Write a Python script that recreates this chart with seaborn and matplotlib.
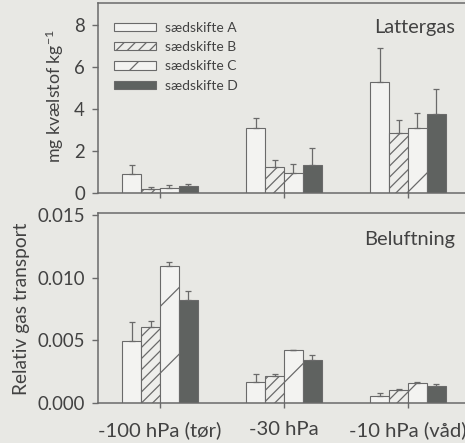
import matplotlib
matplotlib.use("Agg")
import matplotlib.pyplot as plt
import seaborn as sns
import pandas as pd
import numpy as np
from matplotlib.patches import Patch

# ---- data ----
categories = ["-100 hPa (tør)", "-30 hPa", "-10 hPa (våd)"]
series = ["sædskifte A", "sædskifte B", "sædskifte C", "sædskifte D"]

n2o_A = [0.90, 3.08, 5.30]
n2o_B = [0.19, 1.25, 2.87]
n2o_C = [0.25, 0.94, 3.11]
n2o_D = [0.33, 1.32, 3.75]
n2o_err_A = [0.43, 0.47, 1.62]
n2o_err_B = [0.10, 0.32, 0.63]
n2o_err_C = [0.15, 0.43, 0.69]
n2o_err_D = [0.12, 0.81, 1.19]

gas_A = [0.00491, 0.00167, 0.00053]
gas_B = [0.00603, 0.00218, 0.00101]
gas_C = [0.01096, 0.00419, 0.00159]
gas_D = [0.00823, 0.00340, 0.00138]
gas_err_A = [0.00159, 0.00067, 0.00027]
gas_err_B = [0.00055, 0.00010, 0.00011]
gas_err_C = [0.00030, 0.00006, 0.00006]
gas_err_D = [0.00074, 0.00045, 0.00013]

top_title = "Lattergas"
bottom_title = "Beluftning"
top_ylabel = "mg kvælstof kg$^{-1}$"
bottom_ylabel = "Relativ gas transport"

# ---- style ----
bg = "#e8e8e4"
line_c = "#6a6a6a"
text_c = "#424242"
fills = ["#f3f3f1", "#eeeeeb", "#f3f3f1", "#5e6260"]
hatches = ["", "//////", "/", ""]

sns.set_style("white")
plt.rcParams["font.family"] = ["Lato", "DejaVu Sans"]
plt.rcParams["hatch.linewidth"] = 0.45
plt.rcParams["text.color"] = text_c
plt.rcParams["axes.labelcolor"] = text_c
plt.rcParams["xtick.color"] = line_c
plt.rcParams["ytick.color"] = line_c
plt.rcParams["xtick.labelcolor"] = text_c
plt.rcParams["ytick.labelcolor"] = text_c
plt.rcParams["mathtext.default"] = "regular"

W, H = 465, 443
DPI = 200
fig = plt.figure(figsize=(W / DPI, H / DPI), dpi=DPI, facecolor=bg)

def fx(px):
    return px / W

def fy(px):
    return 1 - px / H

left = fx(98)
width = (470 - 98) / W
ax1 = fig.add_axes([left, fy(193), width, (193 - 3) / H])
ax2 = fig.add_axes([left, fy(403), width, (403 - 213) / H])

def make_df(vals, errs):
    rows = []
    for s, v, e in zip(series, vals, errs):
        for c, vv, ee in zip(categories, v, e):
            rows.append({"cat": c, "series": s, "value": vv, "err": ee})
    return pd.DataFrame(rows)

df1 = make_df([n2o_A, n2o_B, n2o_C, n2o_D], [n2o_err_A, n2o_err_B, n2o_err_C, n2o_err_D])
df2 = make_df([gas_A, gas_B, gas_C, gas_D], [gas_err_A, gas_err_B, gas_err_C, gas_err_D])

def draw(ax, df, ylim, yticks, yfmt):
    ax.set_facecolor(bg)
    sns.barplot(data=df, x="cat", y="value", hue="series", order=categories,
                hue_order=series, palette=fills, width=0.61, gap=0,
                errorbar=None, legend=False, ax=ax,
                edgecolor=line_c, linewidth=0.4)
    bar_conts = list(ax.containers)
    for i, cont in enumerate(bar_conts):
        sub = df[df["series"] == series[i]].set_index("cat").loc[categories]
        xs, ys = [], []
        for bar in cont:
            bar.set_hatch(hatches[i])
            bar.set_edgecolor(line_c)
            xs.append(bar.get_x() + bar.get_width() / 2)
            ys.append(bar.get_height())
        ax.errorbar(xs, ys, yerr=[np.zeros(len(ys)), sub["err"].values],
                    fmt="none", ecolor=line_c, elinewidth=0.45, capsize=1.2,
                    capthick=0.45, zorder=1)
    ax.set_xlim(-0.5, 2.5)
    ax.set_ylim(*ylim)
    ax.set_yticks(yticks)
    ax.set_yticklabels([yfmt.format(t) for t in yticks])
    ax.set_xlabel("")
    ax.set_ylabel("")
    for sp in ax.spines.values():
        sp.set_color(line_c)
        sp.set_linewidth(0.55)
    ax.spines["right"].set_visible(False)
    ax.tick_params(axis="y", direction="out", length=2.2, width=0.5,
                   labelsize=6.7, pad=2.5, left=True)
    ax.tick_params(axis="x", direction="inout", length=3.5, width=0.5,
                   labelsize=7.3, pad=4.8, bottom=True)

draw(ax1, df1, (0, 9.05), [0, 2, 4, 6, 8], "{:g}")
draw(ax2, df2, (0, 0.01516), [0.0, 0.005, 0.010, 0.015], "{:.3f}")
ax1.set_xticklabels([])

ax1.text((455 - 98) / 372, (193 - 28) / 190, top_title, transform=ax1.transAxes,
         ha="right", va="center", fontsize=7.2, color=text_c)
ax2.text((455 - 98) / 372, (403 - 240) / 190, bottom_title, transform=ax2.transAxes,
         ha="right", va="center", fontsize=7.2, color=text_c)

fig.text(fx(55), fy(96), top_ylabel, rotation=90, ha="center", va="center",
         fontsize=6.4, color=text_c)
fig.text(fx(22), fy(309), bottom_ylabel, rotation=90, ha="center", va="center",
         fontsize=6.9, color=text_c)

handles = [Patch(facecolor=fills[i], edgecolor=line_c, hatch=hatches[i],
                 linewidth=0.4, label=series[i]) for i in range(4)]
ax1.legend(handles=handles, loc="upper left",
           bbox_to_anchor=((114 - 98) / 372, (193 - 22) / 190),
           frameon=False, fontsize=5.0, handlelength=3.0, handleheight=0.55,
           labelspacing=0.52, handletextpad=0.65, borderaxespad=0, borderpad=0,
           labelcolor=text_c)

fig.savefig("out.png", dpi=DPI, facecolor=bg)
